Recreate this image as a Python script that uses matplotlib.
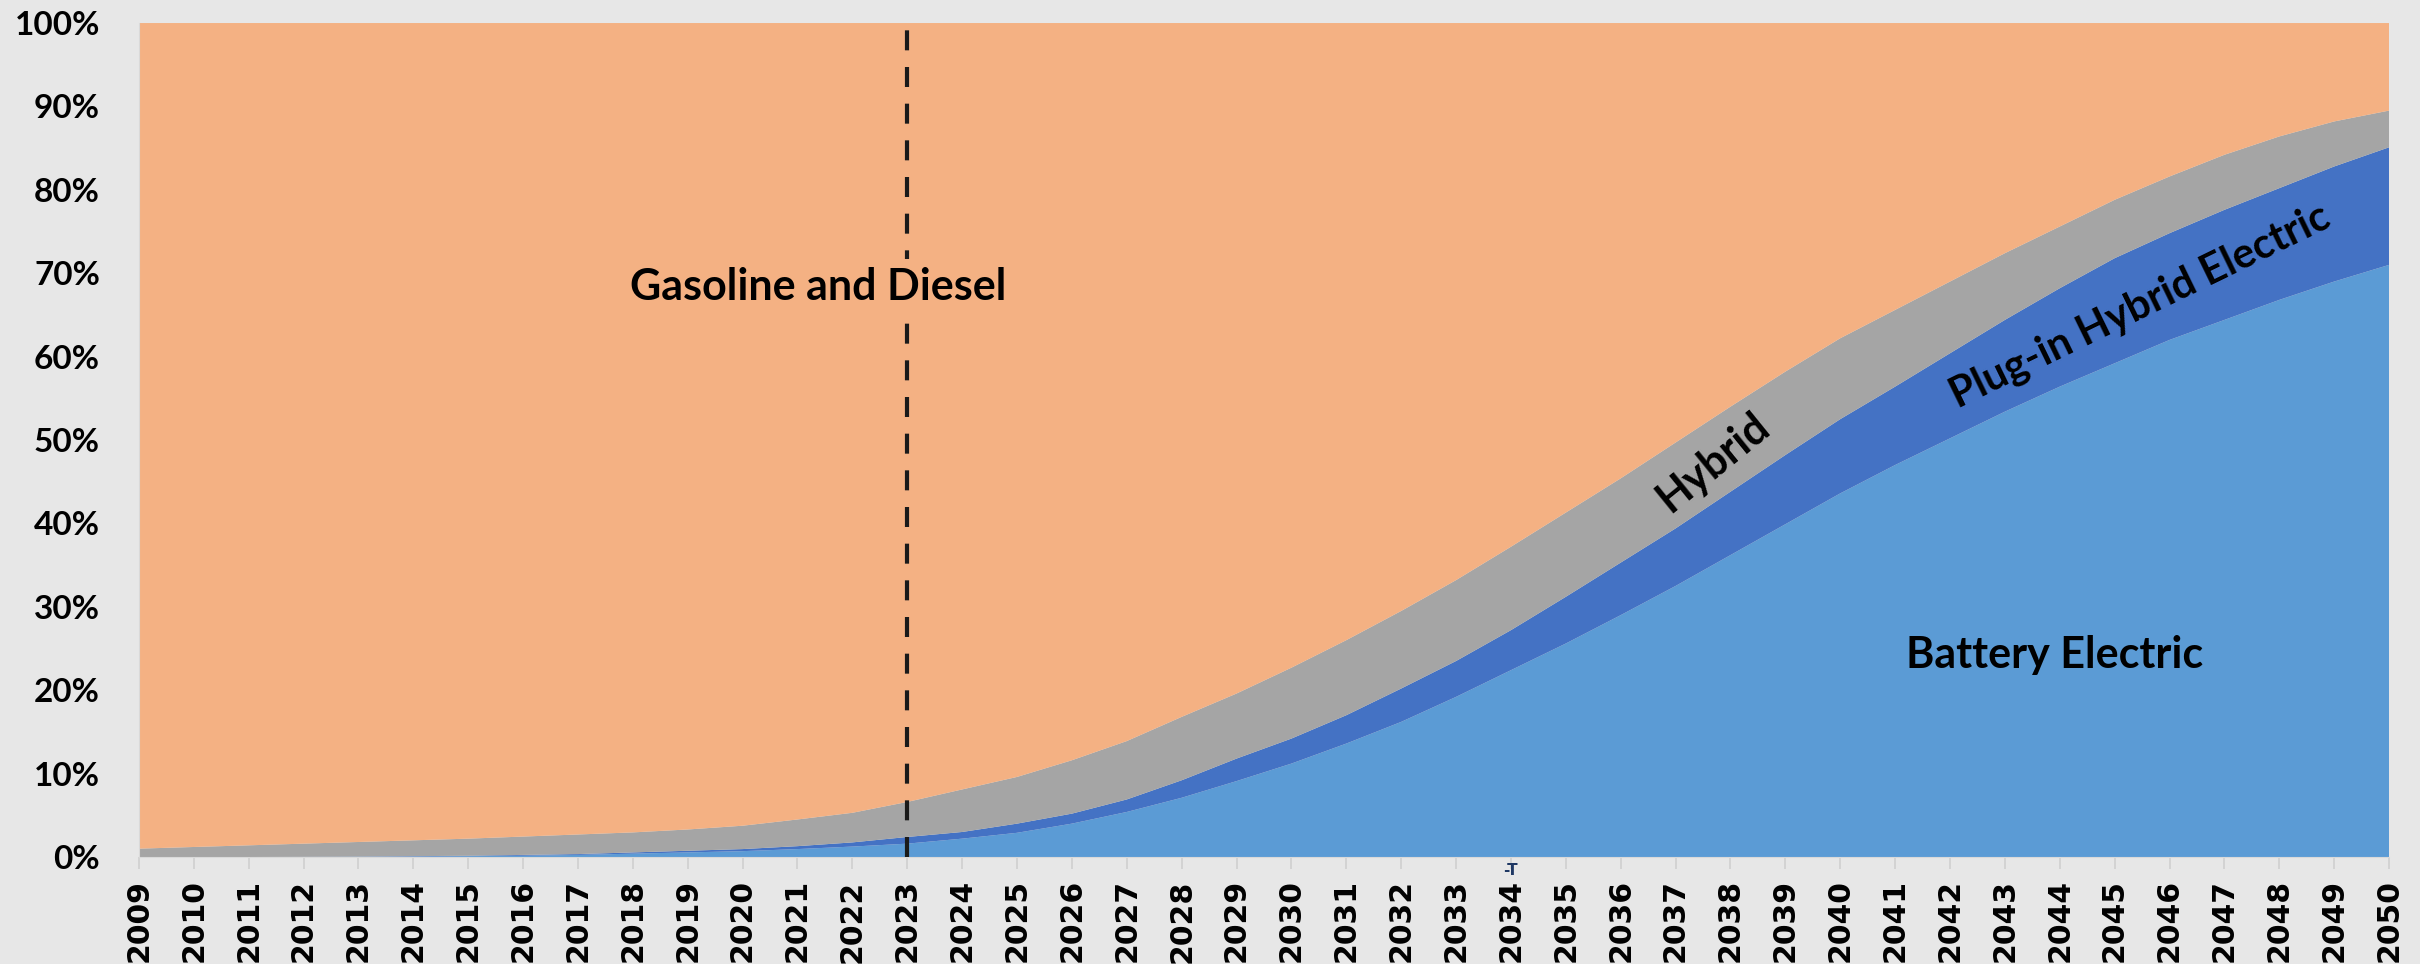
import matplotlib
matplotlib.use("Agg")
import matplotlib.pyplot as plt
import numpy as np

# model years on the category axis
years = list(range(2009, 2051))

# share of new sales (%)
battery_electric = [0, 0, 0, 0, 0.02, 0.05, 0.1, 0.15, 0.25, 0.4,
                    0.55, 0.7, 0.95, 1.25, 1.6, 2.2, 2.9, 4.0, 5.4, 7.1,
                    9.1, 11.2, 13.6, 16.2, 19.2, 22.4, 25.6, 29.0, 32.5, 36.2,
                    39.9, 43.6, 47.0, 50.2, 53.4, 56.4, 59.2, 62.0, 64.4, 66.8,
                    69.0, 71.0]
plugin_hybrid = [0, 0, 0, 0.02, 0.03, 0.05, 0.05, 0.1, 0.1, 0.15,
                 0.2, 0.25, 0.35, 0.5, 0.8, 0.8, 1.1, 1.2, 1.5, 2.1,
                 2.7, 3.0, 3.4, 4.0, 4.3, 4.8, 5.6, 6.3, 6.9, 7.6,
                 8.3, 8.9, 9.4, 10.2, 11.0, 11.8, 12.6, 12.8, 13.2, 13.4,
                 13.8, 14.1]
hybrid = [1.0, 1.2, 1.4, 1.58, 1.75, 1.9, 2.05, 2.2, 2.35, 2.4,
          2.55, 2.8, 3.2, 3.55, 4.2, 5.1, 5.6, 6.4, 7.0, 7.6,
          7.8, 8.5, 9.0, 9.3, 9.7, 10.0, 10.1, 10.1, 10.3, 10.2,
          10.0, 9.7, 9.2, 8.6, 8.0, 7.4, 7.0, 6.8, 6.6, 6.2,
          5.4, 4.4]
gas_diesel = [100 - a - b - c for a, b, c in zip(battery_electric, plugin_hybrid, hybrid)]

series_names = ["Battery Electric", "Plug-in Hybrid Electric", "Hybrid", "Gasoline and Diesel"]
colors = ["#5B9BD5", "#4472C4", "#A5A5A5", "#F4B183"]

bg = "#E7E7E7"
fig = plt.figure(figsize=(24.2, 9.64), dpi=100, facecolor=bg)
ax = fig.add_axes([0.0574, 0.1110, 0.9298, 0.8651])
ax.set_facecolor(bg)

ax.stackplot(years, battery_electric, plugin_hybrid, hybrid, gas_diesel,
             colors=colors, labels=series_names, linewidth=0)

ax.set_xlim(years[0], years[-1])
ax.set_ylim(0, 100)

# dashed marker for the current year
ax.axvline(2023, color="#1A1A1A", linewidth=3, linestyle=(0, (4.8, 4.0)), zorder=3)

# y axis
ax.set_yticks(np.arange(0, 101, 10))
ax.set_yticklabels([f"{v}%" for v in range(0, 101, 10)],
                   fontfamily="Lato", fontweight="bold", fontsize=24)
ax.tick_params(axis="y", length=0, pad=28)

# x axis
ax.set_xticks(years)
ax.set_xticklabels([str(y) for y in years], rotation=90,
                   fontfamily="DejaVu Sans", fontweight="bold", fontsize=21.5)
ax.tick_params(axis="x", length=8.6, width=1.2, color="#D0D0D0", pad=7.5, direction="out")

for side in ["top", "right"]:
    ax.spines[side].set_visible(False)
ax.spines["left"].set_color("#D9D9D9")
ax.spines["bottom"].set_color("#D9D9D9")

# series labels
lab = dict(fontfamily="Lato", fontweight="bold", color="black", ha="center", va="center")
ax.text(2021.37, 68.3, "Gasoline and Diesel", fontsize=31, zorder=4,
        bbox=dict(facecolor="#F4B183", edgecolor="none", pad=6), **lab)
ax.text(2037.68, 47.3, "Hybrid", fontsize=31, rotation=39, zorder=4, **lab)
ax.text(2045.46, 66.0, "Plug-in Hybrid Electric", fontsize=30, rotation=26, zorder=4, **lab)
ax.text(2043.9, 24.2, "Battery Electric", fontsize=31, zorder=4, **lab)

# small stray mark below the axis
ax.text(2034, -1.6, "-T", fontsize=11, color="#1F3864", fontweight="bold",
        ha="center", va="center", clip_on=False)

fig.savefig("out.png", dpi=100, facecolor=bg)
